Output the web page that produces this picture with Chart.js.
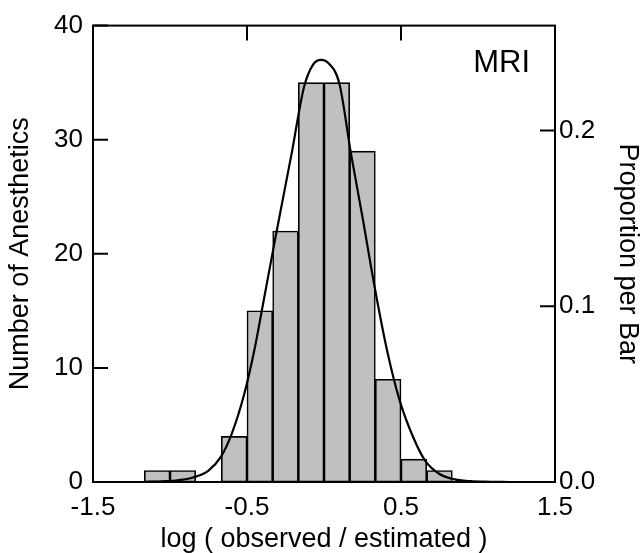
<!DOCTYPE html>
<html lang="en">
<head>
<meta charset="utf-8">
<title>MRI histogram</title>
<script src="https://cdn.jsdelivr.net/npm/chart.js@4.4.0/dist/chart.umd.min.js"></script>
<style>
  html, body { margin: 0; padding: 0; background: #fff; }
</style>
</head>
<body>
<canvas id="hist" width="644" height="553"></canvas>
<script>
// histogram bins (width 1/6) and number of anesthetics per bin
const binEdges = [-7/6, -1, -5/6, -2/3, -1/2, -1/3, -1/6, 0, 1/6, 1/3, 1/2, 2/3, 5/6];
const counts = [1, 1, 0, 4, 15, 22, 35, 35, 29, 9, 2, 1];

// fitted normal curve
const curveX = [-1.15, -1.05, -0.95, -0.85, -0.75, -0.67, -0.6, -0.52, -0.45, -0.4, -0.31, -0.21, -0.13, -0.07, -0.02,
                0.03, 0.1, 0.175, 0.25, 0.33, 0.41, 0.49, 0.58, 0.66, 0.75, 0.84, 0.95, 1.08, 1.2];
const curveY = [0.02, 0.06, 0.15, 0.4, 1.0, 2.2, 4.2, 7.6, 11.7, 15.3, 21.8, 28.8, 34.6, 36.6, 37.0,
                36.7, 34.9, 28.8, 23.2, 17.0, 11.5, 7.2, 3.9, 1.8, 0.7, 0.25, 0.07, 0.02, 0];

const xTicks = [-1.5, -0.5, 0.5, 1.5];
const yTicks = [0, 10, 20, 30, 40];
const propTicks = [0, 0.1, 0.2];
const panelLabel = "MRI";

const total = counts.reduce((a, b) => a + b, 0);
const bars = counts.map((c, i) => ({ x: (binEdges[i] + binEdges[i + 1]) / 2, y: c }));
const curve = curveX.map((x, i) => ({ x: x, y: curveY[i] }));

const FONT = "'Liberation Sans', Arial, Helvetica, sans-serif";

// frame with inward tick marks, plus the panel label
const frame = {
  id: 'frame',
  afterDatasetsDraw(chart) {
    const { ctx, chartArea: a, scales } = chart;
    const len = 15;
    ctx.save();
    ctx.strokeStyle = '#000';
    ctx.lineWidth = 2;
    ctx.strokeRect(a.left, a.top, a.right - a.left, a.bottom - a.top);
    ctx.beginPath();
    xTicks.forEach(v => {
      const px = scales.x.getPixelForValue(v);
      ctx.moveTo(px, a.top); ctx.lineTo(px, a.top + len);
      ctx.moveTo(px, a.bottom); ctx.lineTo(px, a.bottom - len);
    });
    yTicks.forEach(v => {
      const py = scales.y.getPixelForValue(v);
      ctx.moveTo(a.left, py); ctx.lineTo(a.left + len, py);
    });
    propTicks.forEach(v => {
      const py = scales.y2.getPixelForValue(v);
      ctx.moveTo(a.right, py); ctx.lineTo(a.right - len, py);
    });
    ctx.stroke();

    ctx.fillStyle = '#000';
    ctx.font = '31px ' + FONT;
    ctx.textAlign = 'right';
    ctx.textBaseline = 'alphabetic';
    ctx.fillText(panelLabel, a.right - 25, a.top + 46);
    ctx.restore();
  }
};

new Chart(document.getElementById('hist'), {
  type: 'bar',
  plugins: [frame],
  data: {
    datasets: [
      {
        type: 'line',
        data: curve,
        borderColor: '#000',
        borderWidth: 2.2,
        pointRadius: 0,
        cubicInterpolationMode: 'monotone',
        order: 0
      },
      {
        type: 'bar',
        data: bars,
        backgroundColor: '#c0c0c0',
        borderColor: '#000',
        borderWidth: 1.6,
        borderSkipped: false,
        barPercentage: 1,
        categoryPercentage: 1,
        order: 1
      }
    ]
  },
  options: {
    responsive: false,
    animation: false,
    layout: { padding: { top: 21, left: 0, right: 0, bottom: 0 } },
    plugins: { legend: { display: false }, tooltip: { enabled: false } },
    scales: {
      x: {
        type: 'linear',
        min: -1.5,
        max: 1.5,
        offset: false,
        grid: { display: false, drawTicks: false },
        border: { display: false },
        afterBuildTicks: s => { s.ticks = xTicks.map(v => ({ value: v })); },
        afterFit: s => { s.height = 71; },
        ticks: { color: '#000', padding: 10, font: { family: FONT, size: 26 }, maxRotation: 0 },
        title: {
          display: true,
          text: 'log ( observed / estimated )',
          color: '#000',
          font: { family: FONT, size: 27, lineHeight: 1 },
          padding: { top: 0, bottom: 0 }
        }
      },
      y: {
        position: 'left',
        min: 0,
        max: 40,
        grid: { display: false, drawTicks: false },
        border: { display: false },
        afterBuildTicks: s => { s.ticks = yTicks.map(v => ({ value: v })); },
        afterFit: s => { s.width = 93; },
        ticks: { color: '#000', padding: 10, font: { family: FONT, size: 26 } },
        title: {
          display: true,
          text: 'Number of Anesthetics',
          color: '#000',
          font: { family: FONT, size: 27, lineHeight: 1.2 },
          padding: { top: 4, bottom: 4 }
        }
      },
      y2: {
        position: 'right',
        min: 0,
        max: 40 / total,
        grid: { display: false, drawTicks: false },
        border: { display: false },
        afterBuildTicks: s => { s.ticks = propTicks.map(v => ({ value: v })); },
        afterFit: s => { s.width = 89; },
        ticks: { color: '#000', padding: 4, font: { family: FONT, size: 26 }, callback: v => v.toFixed(1) },
        title: {
          display: true,
          text: 'Proportion per Bar',
          color: '#000',
          font: { family: FONT, size: 27, lineHeight: 1.2 },
          padding: { top: 0, bottom: 0 }
        }
      }
    }
  }
});
</script>
</body>
</html>
